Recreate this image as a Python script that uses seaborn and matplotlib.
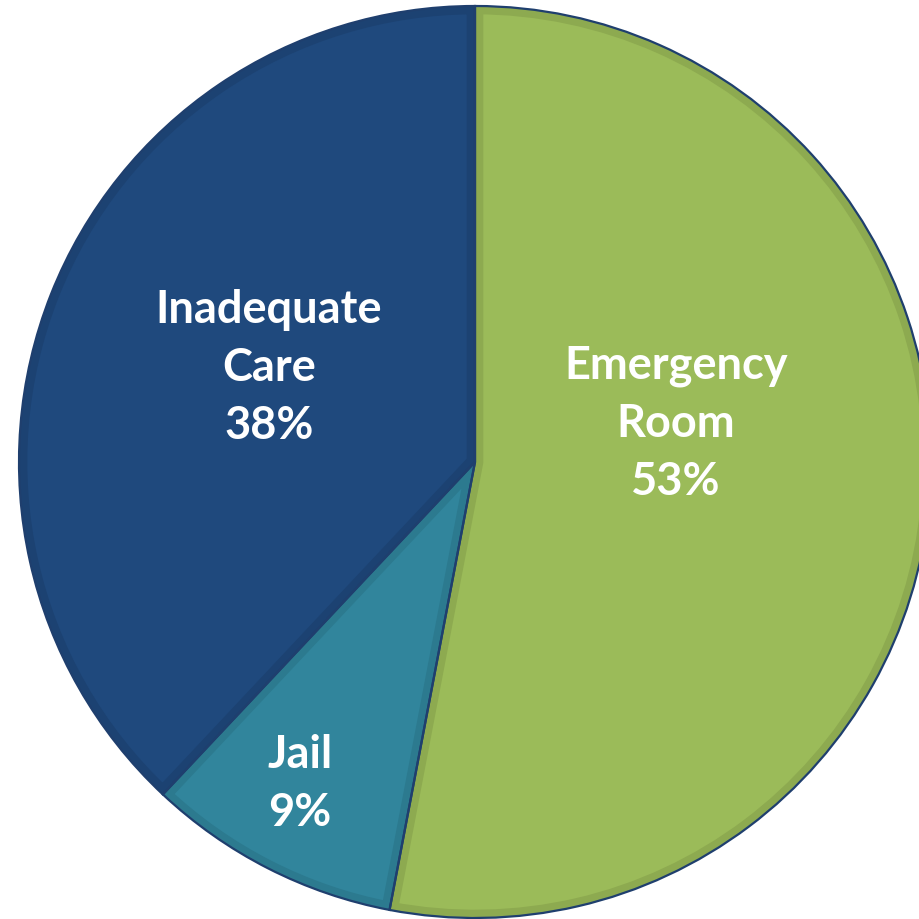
import matplotlib
matplotlib.use("Agg")
import matplotlib.pyplot as plt
import seaborn as sns
from matplotlib.patches import Wedge

categories = ["Emergency\nRoom", "Jail", "Inadequate\nCare"]
shares = [53, 9, 38]
fill_colors = ["#9BBB59", "#31859C", "#1F497D"]
rim_colors = ["#8DAA50", "#2C7A8F", "#1C4272"]

sns.set_theme(style="white")
plt.rcParams["font.family"] = ["Lato", "DejaVu Sans"]

W = H = 920
fig = plt.figure(figsize=(W / 100, H / 100), dpi=100)
ax = fig.add_axes([0, 0, 1, 1])

wedges, _ = ax.pie(
    shares,
    colors=fill_colors,
    startangle=90,
    counterclock=False,
    radius=1.0,
    wedgeprops=dict(linewidth=0),
)

# circle centre and radius in pixels
cx, cy, rad = 475, 920 - 463, 456
ax.set_xlim(-cx / rad, (W - cx) / rad)
ax.set_ylim(-cy / rad, (H - cy) / rad)
ax.set_aspect("equal")
ax.axis("off")

# darker inner rim on each slice, clipped to the slice itself
for w, rim in zip(wedges, rim_colors):
    band = Wedge(w.center, w.r, w.theta1, w.theta2, facecolor="none",
                 edgecolor=rim, linewidth=12, zorder=3)
    ax.add_patch(band)
    band.set_clip_path(w)

# thin outline around slices
for w in wedges:
    ax.add_patch(Wedge(w.center, w.r, w.theta1, w.theta2, facecolor="none",
                       edgecolor="#1F3F6E", linewidth=1.6, zorder=4))

def px(x, y):
    return (x - cx) / rad, ((H - y) - cy) / rad

label_pos = [(676, 424), (300, 784), (269, 368)]
for name, val, (x, y) in zip(categories, shares, label_pos):
    tx, ty = px(x, y)
    ax.text(tx, ty, f"{name}\n{val}%", ha="center", va="center",
            color="white", fontsize=32.5, fontweight="bold",
            linespacing=1.47, zorder=5)

fig.savefig("out.png", dpi=100, facecolor="white")
